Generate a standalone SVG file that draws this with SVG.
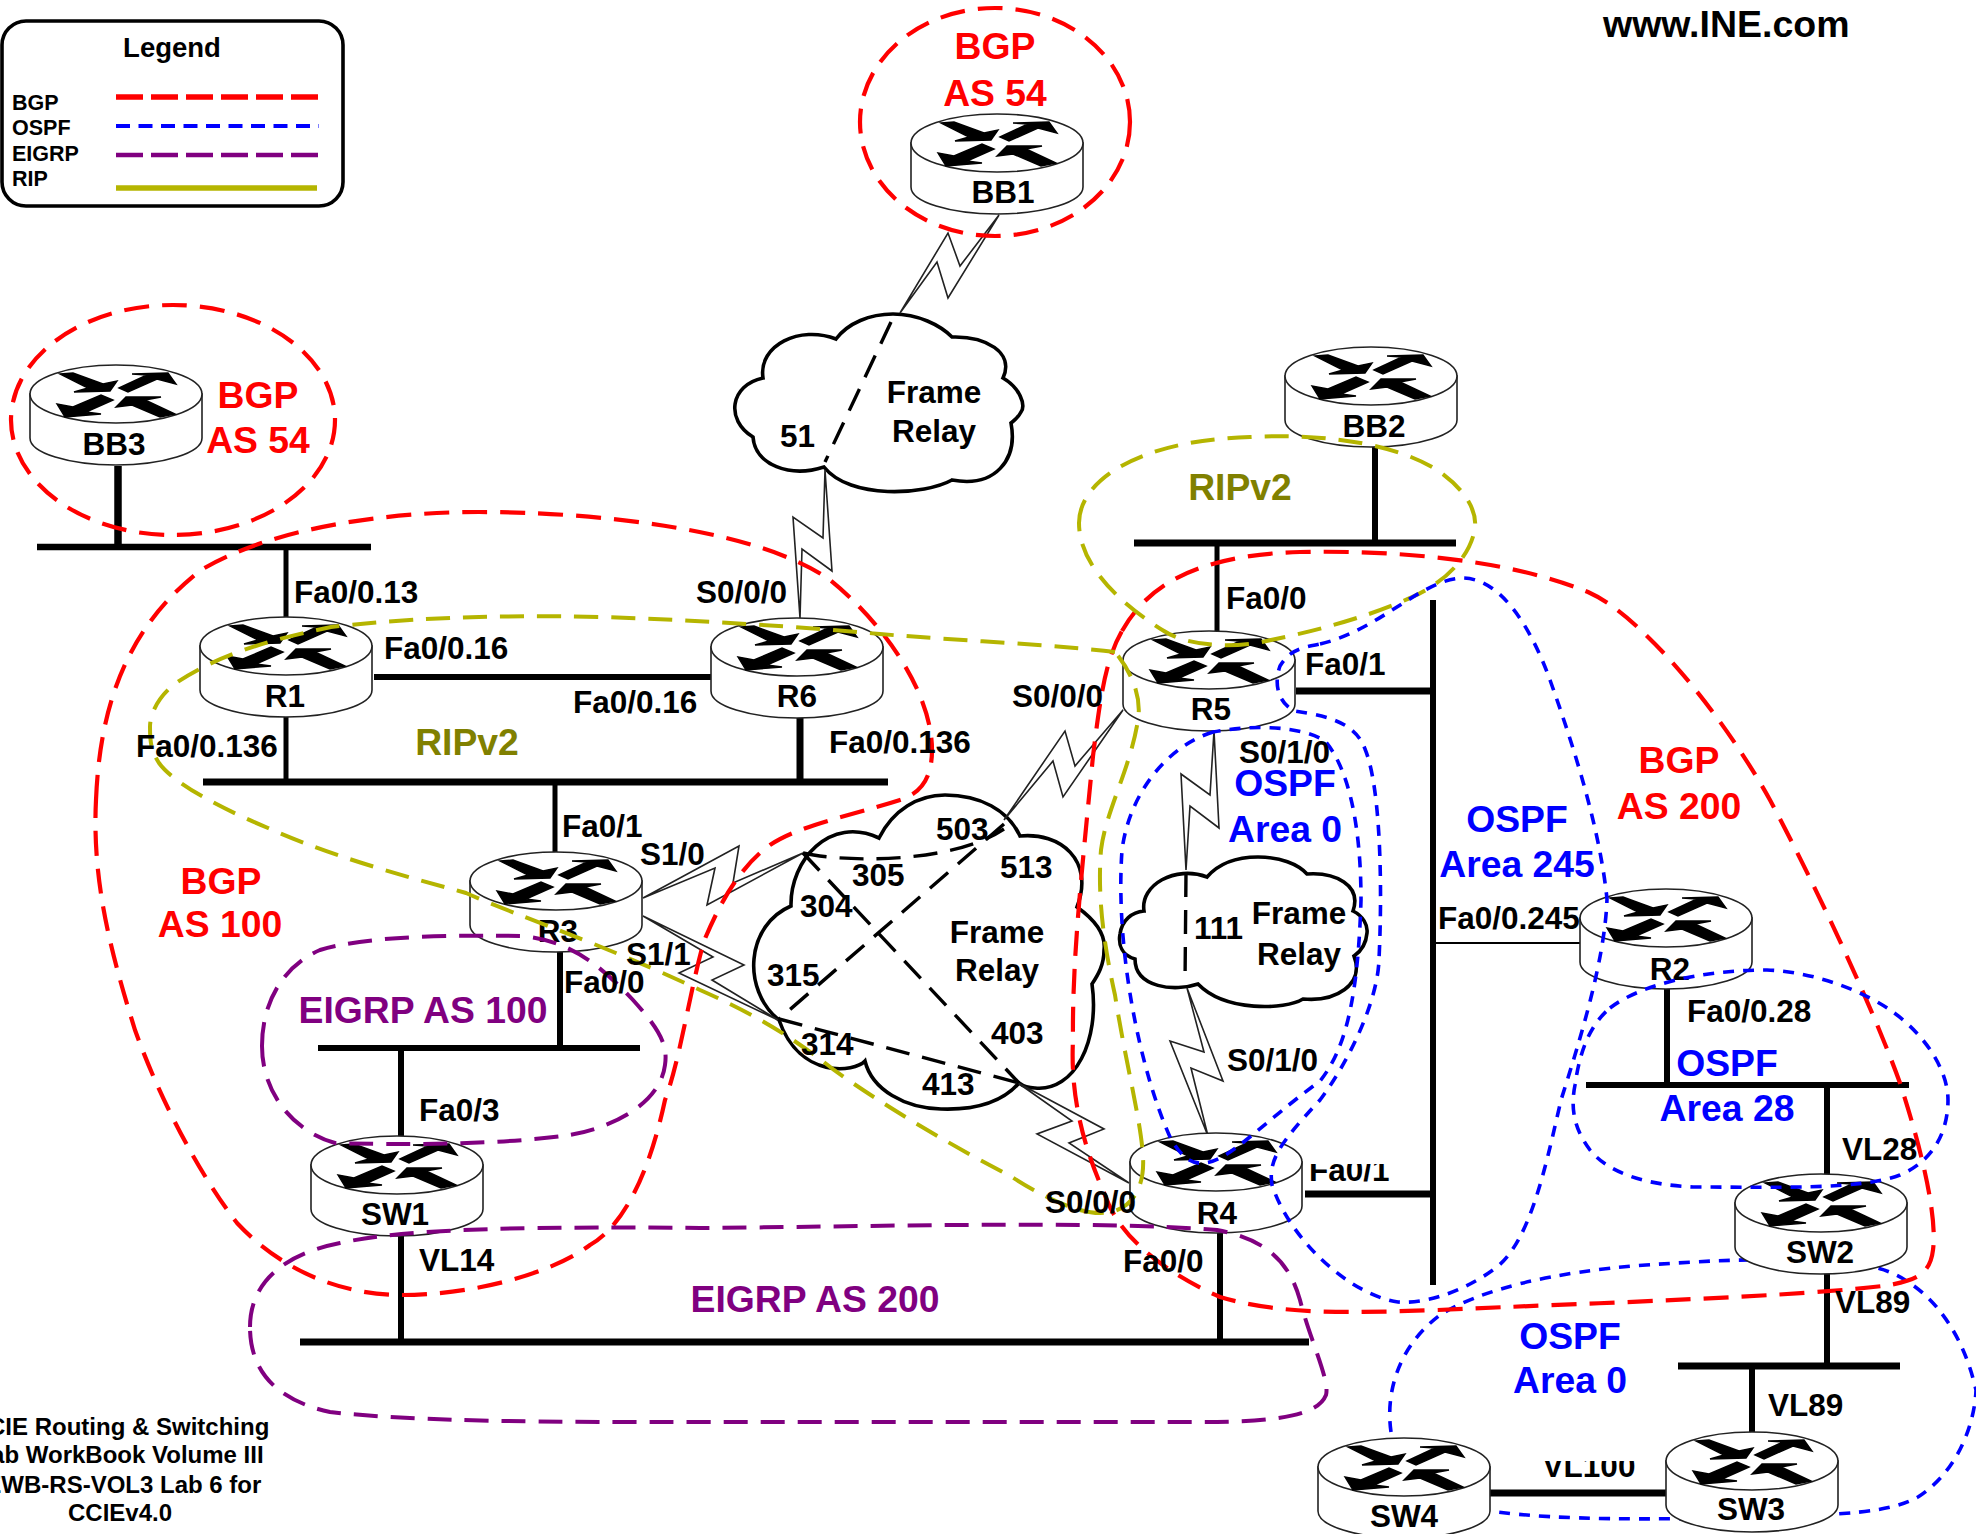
<svg xmlns="http://www.w3.org/2000/svg" xmlns:xlink="http://www.w3.org/1999/xlink" width="1976" height="1534" viewBox="0 0 1976 1534">
<style>
text{font-family:"Liberation Sans",Arial,sans-serif;font-weight:bold;fill:#000}
.s{font-size:31.5px}
.m{text-anchor:middle}
.n{font-size:31.5px;text-anchor:middle}
.big{font-size:37.3px;text-anchor:middle}
.red{fill:#ff0000}.blue{fill:#0000ff}.pur{fill:#800080}.oli{fill:#808000}
.lg{font-size:21.5px}
.bus{stroke:#000;fill:none}
.bolt{fill:#fff;stroke:#222;stroke-width:1.6;stroke-linejoin:miter}
.cloud{fill:#fff;stroke:#000;stroke-width:3.6}
.pvc{fill:none;stroke:#000;stroke-width:3.4;stroke-dasharray:24 13}
.r{fill:none;stroke:#ff0000;stroke-width:4.2;stroke-dasharray:25 13}
.b{fill:none;stroke:#0000ff;stroke-width:3.6;stroke-dasharray:11 9}
.p{fill:none;stroke:#800080;stroke-width:4;stroke-dasharray:24 13}
.o{fill:none;stroke:#b5b500;stroke-width:4;stroke-dasharray:24 13}
.body{fill:#fff;stroke:#222;stroke-width:1.6}
.arr{fill:#000;stroke:#000;stroke-width:1.4}
</style>
<defs>
<g id="router">
<path class="body" d="M-86 0V44A86 27 0 0 0 86 44V0Z"/>
<ellipse class="body" cx="0" cy="0" rx="86" ry="29"/>
<path class="arr" d="M-56-20L-43-21L-13-10L1-13L-6-3L-42-2L-28-6Z"/>
<path class="arr" d="M3-6L31-19L16-20L52-21L60-10L41-15L12-2Z"/>
<path class="arr" d="M-3 6L-30 18L-15 20L-51 23L-59 10L-43 13L-15 1Z"/>
<path class="arr" d="M59 20L44 23L16 11L0 13L10 3L45 3L29 6Z"/>
</g>
<clipPath id="cFa"><rect x="1300" y="1164" width="120" height="30"/></clipPath>
<clipPath id="cVL"><rect x="1530" y="1461" width="120" height="30"/></clipPath>
</defs>
<rect width="1976" height="1534" fill="#fff"/>

<g id="legend">
<rect x="2" y="21" width="341" height="185" rx="24" fill="#fff" stroke="#000" stroke-width="3.6"/>
<text x="172" y="57" font-size="27.5" class="m">Legend</text>
<text x="12" y="110" class="lg">BGP</text>
<text x="12" y="135" class="lg">OSPF</text>
<text x="12" y="161" class="lg">EIGRP</text>
<text x="12" y="186" class="lg">RIP</text>
<line x1="116" y1="97" x2="319" y2="97" stroke="#ff0000" stroke-width="5.5" stroke-dasharray="27 8"/>
<line x1="116" y1="126" x2="319" y2="126" stroke="#0000ff" stroke-width="4" stroke-dasharray="14 8.5"/>
<line x1="116" y1="155" x2="319" y2="155" stroke="#800080" stroke-width="4.5" stroke-dasharray="27 8"/>
<line x1="116" y1="188" x2="317" y2="188" stroke="#b5b500" stroke-width="5.5"/>
</g>

<text x="1603" y="37" font-size="37.5">www.INE.com</text>

<g id="clouds">
<path id="cloud-top" class="cloud" d="M836 339C848 323 870 314 893 314C918 314 940 325 952 337C985 336 1015 352 1003 378C1020 388 1026 405 1021 412C1018 418 1015 420 1011 423C1018 460 995 488 952 480C925 495 850 500 824 467C790 478 755 465 753 437C725 420 730 385 763 378C758 345 800 325 836 339Z"/>
<path id="cloud-mid" class="cloud" d="M879 838C893 810 918 795 945 795C980 795 1008 810 1020 836C1060 832 1095 860 1077 907C1095 920 1106 935 1104 950C1104 965 1098 975 1092 984C1100 1040 1075 1092 1035 1088C1028 1088 1023 1086 1019 1083C1000 1105 970 1110 941 1109C905 1108 872 1090 865 1061C855 1072 800 1080 779 1020C760 1005 752 980 754 959C756 935 770 915 791 906C790 860 830 815 879 838Z"/>
<path id="cloud-right" class="cloud" d="M1207 877C1220 862 1240 857 1258 857C1280 857 1298 864 1307 874C1335 872 1362 885 1353 911C1363 916 1368 925 1367 933C1366 945 1360 952 1354 956C1365 985 1335 1002 1303 999C1285 1010 1225 1012 1198 984C1175 992 1135 988 1135 959C1122 955 1118 945 1120 934C1122 920 1132 912 1144 911C1140 885 1175 865 1207 877Z"/>
</g>

<g id="connectors">
<g class="bus">
<line x1="118" y1="466" x2="118" y2="547" stroke-width="7.5"/>
<line x1="37" y1="547" x2="371" y2="547" stroke-width="6.5"/>
<line x1="286" y1="547" x2="286" y2="617" stroke-width="5"/>
<line x1="374" y1="677" x2="712" y2="677" stroke-width="6"/>
<line x1="286" y1="717" x2="286" y2="782" stroke-width="5"/>
<line x1="203" y1="782" x2="888" y2="782" stroke-width="7"/>
<line x1="800" y1="714" x2="800" y2="782" stroke-width="7"/>
<line x1="555" y1="782" x2="555" y2="853" stroke-width="5"/>
<line x1="560" y1="952" x2="560" y2="1048" stroke-width="6"/>
<line x1="318" y1="1048" x2="640" y2="1048" stroke-width="6"/>
<line x1="401" y1="1048" x2="401" y2="1136" stroke-width="6"/>
<line x1="401" y1="1235" x2="401" y2="1342" stroke-width="6"/>
<line x1="300" y1="1342" x2="1309" y2="1342" stroke-width="7"/>
<line x1="1220" y1="1233" x2="1220" y2="1342" stroke-width="6"/>
<line x1="1433" y1="600" x2="1433" y2="1285" stroke-width="6"/>
<line x1="1296" y1="691" x2="1433" y2="691" stroke-width="7"/>
<line x1="1305" y1="1194" x2="1433" y2="1194" stroke-width="7"/>
<line x1="1433" y1="943" x2="1580" y2="943" stroke-width="2"/>
<line x1="1134" y1="543" x2="1456" y2="543" stroke-width="7"/>
<line x1="1375" y1="447" x2="1375" y2="543" stroke-width="6"/>
<line x1="1217" y1="543" x2="1217" y2="631" stroke-width="5"/>
<line x1="1667" y1="988" x2="1667" y2="1085" stroke-width="6"/>
<line x1="1586" y1="1085" x2="1909" y2="1085" stroke-width="6"/>
<line x1="1827" y1="1085" x2="1827" y2="1175" stroke-width="6"/>
<line x1="1827" y1="1243" x2="1827" y2="1366" stroke-width="6"/>
<line x1="1678" y1="1366" x2="1900" y2="1366" stroke-width="7"/>
<line x1="1752" y1="1366" x2="1752" y2="1432" stroke-width="6"/>
<line x1="1490" y1="1493" x2="1667" y2="1493" stroke-width="7"/>
</g>
<path class="bolt" d="M999 215L960 266L948 233L900 313L937 262L948 298Z"/>
<path class="bolt" d="M825 470L823 538L793 517L800 618L802 549L832 571Z"/>
<path class="bolt" d="M643 898L739 846L733 883L803 853L707 905L715 868Z"/>
<path class="bolt" d="M643 916L744 965L712 980L778 1020L679 973L713 957Z"/>
<path class="bolt" d="M1018 1083L1104 1129L1069 1143L1129 1183L1037 1134L1072 1121Z"/>
<path class="bolt" d="M1123 710L1075 766L1065 731L1004 820L1053 761L1063 797Z"/>
<path class="bolt" d="M1214 731L1210 795L1181 774L1186 870L1190 806L1219 828Z"/>
<path class="bolt" d="M1187 988L1204 1052L1170 1041L1208 1136L1191 1068L1223 1081Z"/>
<path class="pvc" d="M891 322L825 462"/>
<path class="pvc" d="M803 853C840 862 950 865 1004 829"/>
<path class="pvc" d="M1004 824L779 1019"/>
<path class="pvc" d="M803 853L1019 1083"/>
<path class="pvc" d="M779 1019L1019 1083"/>
<path class="pvc" d="M1186 873L1185 984"/>
<path id="ospf-area0-low" class="b" d="M1391 1432C1385 1390 1400 1345 1440 1315C1480 1290 1550 1272 1646 1265C1720 1260 1800 1255 1878 1268C1920 1280 1960 1320 1976 1390C1975 1420 1960 1470 1918 1497C1890 1513 1840 1515 1752 1517C1650 1520 1560 1520 1497 1512"/>
</g>

<g id="BB1" transform="translate(997,143)"><use href="#router" xlink:href="#router"/><text class="n" x="6" y="60">BB1</text></g>
<g id="BB2" transform="translate(1371,376)"><use href="#router" xlink:href="#router"/><text class="n" x="3" y="61">BB2</text></g>
<g id="BB3" transform="translate(116,394)"><use href="#router" xlink:href="#router"/><text class="n" x="-2" y="61">BB3</text></g>
<g id="R1" transform="translate(286,646)"><use href="#router" xlink:href="#router"/><text class="n" x="-1" y="61">R1</text></g>
<g id="R6" transform="translate(797,647)"><use href="#router" xlink:href="#router"/><text class="n" y="60">R6</text></g>
<g id="R3" transform="translate(556,881)"><use href="#router" xlink:href="#router"/><text class="n" x="2" y="61">R3</text></g>
<g id="R5" transform="translate(1209,660)"><use href="#router" xlink:href="#router"/><text class="n" x="2" y="60">R5</text></g>
<g id="R4" transform="translate(1216,1162)"><use href="#router" xlink:href="#router"/><text class="n" x="1" y="62">R4</text></g>
<g id="R2" transform="translate(1666,918)"><use href="#router" xlink:href="#router"/><text class="n" x="4" y="62">R2</text></g>
<g id="SW1" transform="translate(397,1165)"><use href="#router" xlink:href="#router"/><text class="n" x="-2" y="60">SW1</text></g>
<g id="SW2" transform="translate(1821,1203)"><use href="#router" xlink:href="#router"/><text class="n" x="-1" y="60">SW2</text></g>
<g id="SW3" transform="translate(1752,1461)"><use href="#router" xlink:href="#router"/><text class="n" x="-1" y="59">SW3</text></g>
<g id="SW4" transform="translate(1404,1467)"><use href="#router" xlink:href="#router"/><text class="n" y="60">SW4</text></g>

<g id="regions">
<ellipse class="r" cx="995" cy="122" rx="135" ry="114"/>
<ellipse class="r" cx="173" cy="420" rx="162" ry="115"/>
<path class="r" d="M96 800C100 700 130 625 201 570C268 530 378 512 479 512C600 512 760 530 830 580C880 620 932 690 932 750C932 785 915 795 900 800C850 816 800 825 770 845C735 870 715 915 704 941C690 990 680 1060 665 1100C650 1170 625 1225 590 1245C550 1275 470 1295 402 1295C340 1295 281 1270 237 1223C200 1175 160 1100 135 1030C110 950 92 880 96 800Z"/>
<path class="r" d="M1122 631C1145 590 1190 555 1300 552C1400 550 1510 560 1588 592C1640 615 1720 710 1770 800C1810 875 1870 1000 1900 1083C1925 1160 1937 1220 1933 1250C1930 1275 1915 1280 1890 1285C1800 1297 1590 1303 1438 1310C1350 1313 1280 1315 1220 1297C1170 1275 1120 1240 1105 1195C1085 1150 1070 1100 1073 1040C1072 960 1082 870 1093 756C1100 700 1105 660 1122 631Z"/>
<path class="o" d="M1115 652C1060 645 950 640 880 634C800 627 700 620 600 617C480 614 390 620 331 627C285 637 225 650 176 683C160 695 150 712 150 727C150 745 152 752 159 763C175 785 225 810 268 828C340 860 420 880 466 893C520 917 600 943 700 990C750 1012 790 1035 834 1070C890 1110 960 1150 1012 1177C1040 1195 1075 1213 1100 1213C1130 1213 1145 1190 1143 1157C1141 1120 1125 1060 1115 995C1105 950 1097 900 1101 850C1106 810 1130 770 1138 720C1142 695 1130 670 1115 652Z"/>
<path class="o" d="M1079 523C1079 480 1140 440 1250 437C1330 433 1400 445 1440 472C1465 490 1477 510 1475 528C1470 560 1440 585 1412 597C1380 612 1330 628 1271 640C1240 648 1190 648 1164 631C1130 610 1079 570 1079 523Z"/>
<path class="p" d="M262 1046C262 1000 285 965 320 950C370 935 460 935 520 936C570 940 600 965 633 1000C660 1030 668 1045 665 1065C660 1105 610 1128 570 1135C500 1145 400 1145 335 1143C290 1130 262 1090 262 1046Z"/>
<path class="p" d="M250 1327C250 1285 280 1255 340 1243C400 1230 500 1226 700 1228C850 1227 1100 1220 1217 1230C1270 1240 1290 1265 1300 1300C1310 1340 1330 1380 1326 1395C1318 1415 1280 1422 1200 1422L700 1422C550 1422 420 1422 330 1412C275 1400 250 1370 250 1327Z"/>
<path class="b" d="M1320 644C1380 630 1420 580 1462 578C1500 578 1530 625 1550 680C1575 750 1600 830 1607 899C1605 960 1580 1040 1561 1100C1545 1170 1530 1240 1497 1267C1460 1295 1420 1304 1398 1302C1350 1295 1290 1240 1272 1185C1268 1160 1280 1143 1320 1100C1350 1060 1378 1000 1379 959C1382 900 1382 790 1365 749C1355 720 1320 715 1294 711C1275 700 1275 680 1280 666C1290 650 1300 648 1320 644Z"/>
<path class="b" d="M1213 732C1170 745 1130 790 1122 850C1115 950 1140 1070 1170 1137C1180 1155 1190 1165 1205 1163C1230 1160 1260 1125 1320 1081C1345 1050 1358 1000 1361 900C1361 830 1350 770 1325 741C1300 725 1250 725 1213 732Z"/>
<path class="b" d="M1610 1008C1640 985 1700 970 1767 970C1820 972 1870 995 1893 1012C1925 1035 1948 1070 1948 1100C1948 1130 1935 1160 1900 1175C1860 1190 1780 1187 1693 1187C1650 1185 1610 1175 1590 1150C1575 1130 1570 1110 1575 1085C1580 1050 1590 1025 1610 1008Z"/>
</g>

<g id="labels">
<text class="big red" x="995" y="59">BGP</text><text class="big red" x="995" y="106">AS 54</text>
<text class="big red" x="258" y="408">BGP</text><text class="big red" x="258" y="453">AS 54</text>
<text class="big red" x="221" y="894">BGP</text><text class="big red" x="220" y="937">AS 100</text>
<text class="big red" x="1679" y="773">BGP</text><text class="big red" x="1679" y="819">AS 200</text>
<text class="big blue" x="1517" y="832">OSPF</text><text class="big blue" x="1517" y="877">Area 245</text>
<text class="big blue" x="1285" y="796">OSPF</text><text class="big blue" x="1285" y="842">Area 0</text>
<text class="big blue" x="1727" y="1076">OSPF</text><text class="big blue" x="1727" y="1121">Area 28</text>
<text class="big blue" x="1570" y="1349">OSPF</text><text class="big blue" x="1570" y="1393">Area 0</text>
<text class="big oli" x="1240" y="500">RIPv2</text>
<text class="big oli" x="467" y="755">RIPv2</text>
<text class="big pur" x="423" y="1023">EIGRP AS 100</text>
<text class="big pur" x="815" y="1312">EIGRP AS 200</text>

<text class="s" x="294" y="603">Fa0/0.13</text>
<text class="s" x="384" y="659">Fa0/0.16</text>
<text class="s" x="573" y="713">Fa0/0.16</text>
<text class="s" x="136" y="757">Fa0/0.136</text>
<text class="s" x="829" y="753">Fa0/0.136</text>
<text class="s" x="696" y="603">S0/0/0</text>
<text class="s" x="1012" y="707">S0/0/0</text>
<text class="s" x="1226" y="609">Fa0/0</text>
<text class="s" x="1305" y="675">Fa0/1</text>
<text class="s" x="1239" y="763">S0/1/0</text>
<text class="s" x="1194" y="939">111</text>
<text class="n" x="1299" y="924">Frame</text><text class="n" x="1299" y="965">Relay</text>
<text class="s" x="1227" y="1071">S0/1/0</text>
<text class="n" x="997" y="943">Frame</text><text class="n" x="997" y="981">Relay</text>
<text class="n" x="934" y="403">Frame</text><text class="n" x="934" y="442">Relay</text>
<text class="s" x="780" y="447">51</text>
<text class="s" x="936" y="840">503</text>
<text class="s" x="1000" y="878">513</text>
<text class="s" x="852" y="886">305</text>
<text class="s" x="800" y="917">304</text>
<text class="s" x="767" y="986">315</text>
<text class="s" x="801" y="1055">314</text>
<text class="s" x="991" y="1044">403</text>
<text class="s" x="922" y="1095">413</text>
<text class="s" x="562" y="837">Fa0/1</text>
<text class="s" x="640" y="865">S1/0</text>
<text class="s" x="626" y="965">S1/1</text>
<text class="s" x="564" y="993">Fa0/0</text>
<text class="s" x="419" y="1121">Fa0/3</text>
<text class="s" x="419" y="1271">VL14</text>
<text class="s" x="1045" y="1213">S0/0/0</text>
<text class="s" x="1123" y="1272">Fa0/0</text>
<text class="s" x="1309" y="1181" clip-path="url(#cFa)">Fa0/1</text>
<text class="s" x="1438" y="929">Fa0/0.245</text>
<text class="s" x="1687" y="1022">Fa0/0.28</text>
<text class="s" x="1842" y="1160">VL28</text>
<text class="s" x="1835" y="1313">VL89</text>
<text class="s" x="1768" y="1416">VL89</text>
<text class="n" x="1589" y="1477" clip-path="url(#cVL)">VL100</text>
<text x="120" y="1435" font-size="24" class="m">CCIE Routing &amp; Switching</text>
<text x="120" y="1463" font-size="24" class="m">Lab WorkBook Volume III</text>
<text x="120" y="1493" font-size="24" class="m">IEWB-RS-VOL3 Lab 6 for</text>
<text x="120" y="1521" font-size="24" class="m">CCIEv4.0</text>
</g>
</svg>
